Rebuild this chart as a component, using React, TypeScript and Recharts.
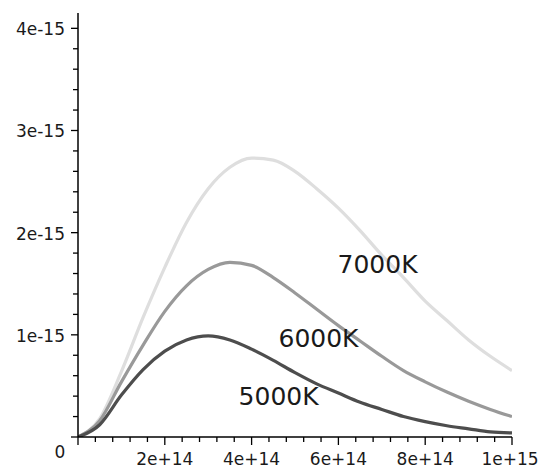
import { LineChart, Line, XAxis, YAxis, ReferenceDot } from "recharts";

// frequency, in units of 1e15 Hz
const FREQ = [
  0, 0.05, 0.1, 0.15, 0.2, 0.25, 0.3, 0.35, 0.4, 0.45, 0.5, 0.55, 0.6, 0.65,
  0.7, 0.75, 0.8, 0.85, 0.9, 0.95, 1.0,
];

// spectral intensity, in units of 1e-15
const T5000 = [
  0, 0.12, 0.41, 0.66, 0.84, 0.95, 0.99, 0.95, 0.86, 0.75, 0.63, 0.52, 0.43,
  0.34, 0.27, 0.2, 0.15, 0.11, 0.08, 0.05, 0.04,
];
const T6000 = [
  0, 0.16, 0.54, 0.9, 1.23, 1.48, 1.64, 1.71, 1.68, 1.56, 1.41, 1.25, 1.09,
  0.94, 0.79, 0.65, 0.54, 0.44, 0.35, 0.27, 0.2,
];
const T7000 = [
  0, 0.18, 0.64, 1.17, 1.66, 2.1, 2.43, 2.64, 2.73, 2.71, 2.6, 2.43, 2.24,
  2.02, 1.78, 1.56, 1.33, 1.14, 0.95, 0.79, 0.65,
];

const X_MAJOR_LABELS = ["0", "2e+14", "4e+14", "6e+14", "8e+14", "1e+15"];
const Y_MAJOR_LABELS = ["0", "1e-15", "2e-15", "3e-15", "4e-15"];

// minor ticks: 5 intervals per major step
const X_TICKS = Array.from({ length: 26 }, (_, i) => i * 0.04);
const Y_TICKS = Array.from({ length: 21 }, (_, i) => i * 0.2);

const CURVE_LABELS = [
  { text: "7000K", f: 0.598, v: 1.605 },
  { text: "6000K", f: 0.462, v: 0.88 },
  { text: "5000K", f: 0.37, v: 0.313 },
];

const FONT = "'DejaVu Sans', sans-serif";
const INK = "#1a1a1a";

const data = FREQ.map((f, i) => ({
  f,
  t5000: T5000[i],
  t6000: T6000[i],
  t7000: T7000[i],
}));

function XTick(props: any) {
  const { x, y, index } = props;
  const major = index % 5 === 0;
  const last = index === X_TICKS.length - 1;
  return (
    <g>
      <line x1={x} x2={x} y1={y} y2={y + (major ? 8 : 5)} stroke="#000" strokeWidth={1.3} />
      {major && index > 0 && (
        <text
          x={last ? x - 2 : x}
          y={y + 28}
          textAnchor="middle"
          fontFamily={FONT}
          fontSize={17}
          fill={INK}
        >
          {X_MAJOR_LABELS[index / 5]}
        </text>
      )}
    </g>
  );
}

function YTick(props: any) {
  const { x, y, index } = props;
  const major = index % 5 === 0;
  return (
    <g>
      <line x1={x - (major ? 7 : 5)} x2={x} y1={y} y2={y} stroke="#000" strokeWidth={1.3} />
      {major && index > 0 && (
        <text x={x - 13} y={y + 7} textAnchor="end" fontFamily={FONT} fontSize={17} fill={INK}>
          {Y_MAJOR_LABELS[index / 5]}
        </text>
      )}
      {index === 0 && (
        <text x={x - 18} y={y + 21} textAnchor="middle" fontFamily={FONT} fontSize={17} fill={INK}>
          {Y_MAJOR_LABELS[0]}
        </text>
      )}
    </g>
  );
}

export default function App() {
  return (
    <div style={{ position: "absolute", left: 0, top: 0, background: "#fff" }}>
      <LineChart
        width={540}
        height={470}
        data={data}
        margin={{ top: 13, right: 28, bottom: 0, left: 0 }}
      >
        <XAxis
          type="number"
          dataKey="f"
          domain={[0, 1]}
          ticks={X_TICKS}
          interval={0}
          tick={(p: any) => <XTick {...p} />}
          tickLine={false}
          tickSize={0}
          tickMargin={0}
          axisLine={{ stroke: "#000", strokeWidth: 1.5 }}
          height={33}
          allowDataOverflow
        />
        <YAxis
          type="number"
          domain={[0, 4.15]}
          ticks={Y_TICKS}
          interval={0}
          tick={(p: any) => <YTick {...p} />}
          tickLine={false}
          tickSize={0}
          tickMargin={0}
          axisLine={{ stroke: "#000", strokeWidth: 1.5 }}
          width={78}
          allowDataOverflow
        />
        <Line
          type="monotone"
          dataKey="t7000"
          stroke="#dedede"
          strokeWidth={3.2}
          dot={false}
          activeDot={false}
          isAnimationActive={false}
        />
        <Line
          type="monotone"
          dataKey="t6000"
          stroke="#999999"
          strokeWidth={3.2}
          dot={false}
          activeDot={false}
          isAnimationActive={false}
        />
        <Line
          type="monotone"
          dataKey="t5000"
          stroke="#4d4d4d"
          strokeWidth={3.2}
          dot={false}
          activeDot={false}
          isAnimationActive={false}
        />
        {CURVE_LABELS.map((l) => (
          <ReferenceDot
            key={l.text}
            x={l.f}
            y={l.v}
            r={0}
            shape={(p: any) => (
              <text x={p.cx} y={p.cy} fontFamily={FONT} fontSize={25} fill={INK}>
                {l.text}
              </text>
            )}
          />
        ))}
      </LineChart>
    </div>
  );
}
